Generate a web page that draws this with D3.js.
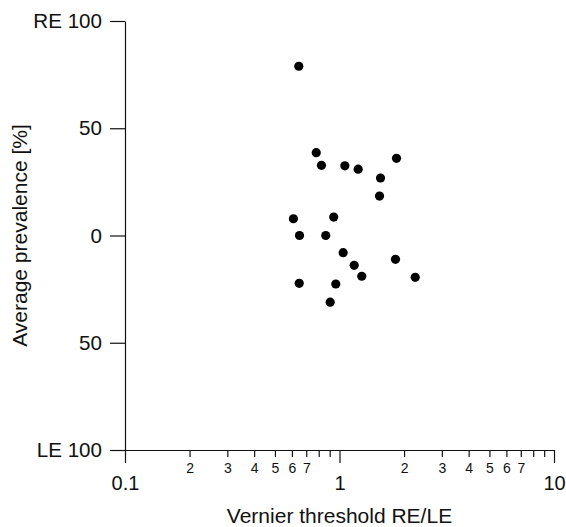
<!DOCTYPE html>
<html>
<head>
<meta charset="utf-8">
<script src="https://cdn.jsdelivr.net/npm/d3@7"></script>
<style>
  html, body { margin: 0; padding: 0; background: #fff; }
  svg text { font-family: "Liberation Sans", Arial, sans-serif; fill: #111; }
  .axis path, .axis line { stroke: #111; stroke-width: 1.2; }
</style>
</head>
<body>
<svg id="chart" width="566" height="527"></svg>
<script>
// Vernier threshold ratio (RE/LE) for each subject
const vernierRatio = [
  0.646, 0.779, 0.824, 1.059, 1.222, 1.844, 1.553, 1.537,
  0.610, 0.940, 0.651, 0.863, 1.040, 1.171, 1.270, 1.824,
  2.254, 0.649, 0.961, 0.905
];
// Average prevalence: positive = right eye, negative = left eye
const prevalence = [
  78.9, 38.6, 32.7, 32.5, 30.9, 36.0, 26.8, 18.4,
  7.8, 8.6, 0, 0, -8.0, -13.9, -19.0, -11.1,
  -19.5, -22.3, -22.6, -31.1
];

const majorTicksX = [0.1, 1, 10];
const minorTicksX = [0.2, 0.3, 0.4, 0.5, 0.6, 0.7, 0.8, 0.9, 2, 3, 4, 5, 6, 7, 8, 9];
const ticksY = [100, 50, 0, -50, -100];
const yTickLabels = ["RE 100", "50", "0", "50", "LE 100"];

const xTitle = "Vernier threshold RE/LE";
const yTitle = "Average prevalence [%]";

const svg = d3.select("#chart");
const margin = { left: 125, right: 12, top: 21, bottom: 77 };
const W = 566, H = 527;

const x = d3.scaleLog().domain([0.1, 10]).range([margin.left, W - margin.right]);
const y = d3.scaleLinear().domain([-100, 100]).range([H - margin.bottom, margin.top]);

// minor ticks of the log axis, labelled 2..7 only
const minorAxis = d3.axisBottom(x)
  .tickValues(minorTicksX)
  .tickSize(7)
  .tickPadding(6)
  .tickFormat(d => {
    const m = Math.round(d / Math.pow(10, Math.floor(Math.log10(d) + 1e-9)));
    return m <= 7 ? String(m) : "";
  });

const gMinor = svg.append("g")
  .attr("class", "axis")
  .attr("transform", `translate(0,${y(-100)})`)
  .call(minorAxis);
gMinor.select(".domain").remove();
gMinor.selectAll("text").style("font-size", "14px");

// decades
const majorAxis = d3.axisBottom(x)
  .tickValues(majorTicksX)
  .tickSize(13)
  .tickSizeOuter(0)
  .tickPadding(13)
  .tickFormat(d => String(d));

const gMajor = svg.append("g")
  .attr("class", "axis")
  .attr("transform", `translate(0,${y(-100)})`)
  .call(majorAxis);
gMajor.selectAll("text").style("font-size", "20px");

// prevalence axis
const yAxis = d3.axisLeft(y)
  .tickValues(ticksY)
  .tickSize(15)
  .tickSizeOuter(0)
  .tickPadding(8)
  .tickFormat((d, i) => yTickLabels[i]);

const gY = svg.append("g")
  .attr("class", "axis")
  .attr("transform", `translate(${x(0.1)},0)`)
  .call(yAxis);
gY.selectAll("text").style("font-size", "20.6px");

svg.selectAll(".axis text").attr("fill", "#111");
svg.selectAll(".axis .domain").attr("stroke", "#111");

// axis titles
svg.append("text")
  .attr("x", (x(0.1) + x(10)) / 2)
  .attr("y", 523)
  .attr("text-anchor", "middle")
  .style("font-size", "21px")
  .text(xTitle);

svg.append("text")
  .attr("transform", `translate(27,${(y(100) + y(-100)) / 2}) rotate(-90)`)
  .attr("text-anchor", "middle")
  .style("font-size", "21px")
  .text(yTitle);

// subjects
svg.append("g")
  .selectAll("circle")
  .data(vernierRatio.map((v, i) => ({ v, p: prevalence[i] })))
  .join("circle")
  .attr("cx", d => x(d.v))
  .attr("cy", d => y(d.p))
  .attr("r", 4.6)
  .attr("fill", "#000");
</script>
</body>
</html>
